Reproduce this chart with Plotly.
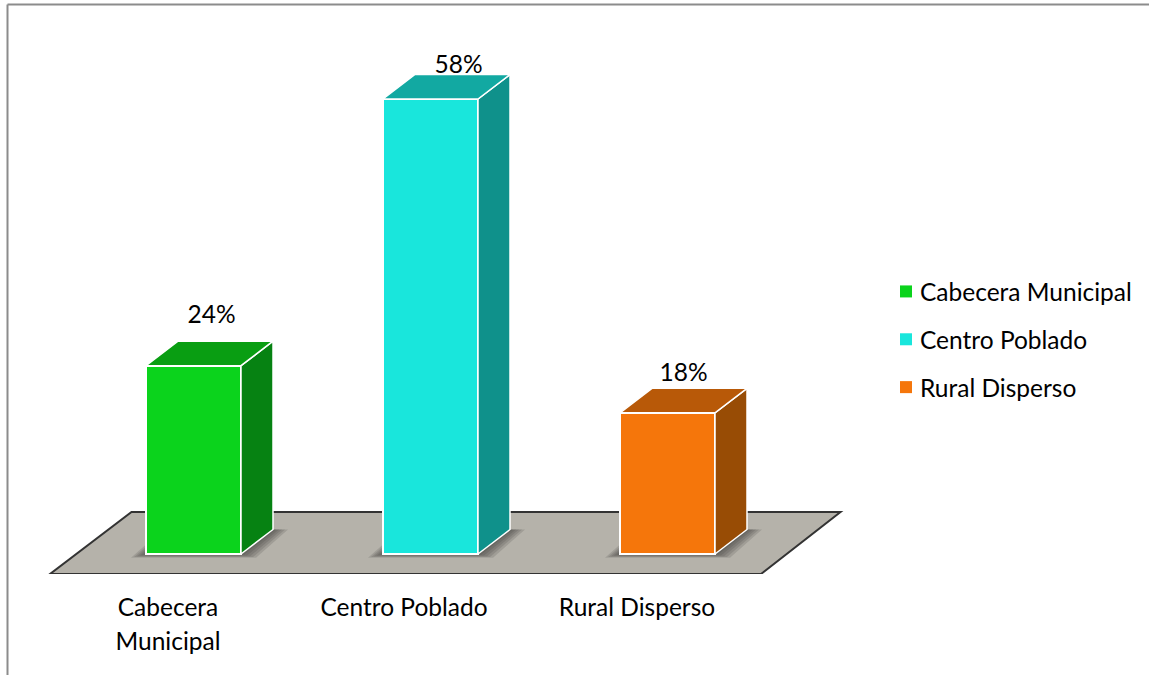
import plotly.graph_objects as go

categories = ["Cabecera Municipal", "Centro Poblado", "Rural Disperso"]
tick_labels = ["Cabecera<br>Municipal", "Centro Poblado", "Rural Disperso"]
values = [24, 58, 18]
front_colors = ["#0BD31C", "#19E6DC", "#F5760B"]
top_colors = ["#099E12", "#12A9A2", "#B85908"]
side_colors = ["#068212", "#0F918B", "#984C05"]

# pixel scale of the axes
PX_X, PX_Y = 237.0, 7.845
X0_PX, Y0_PX = 193.5, 554.0
PLOT_L, PLOT_R, PLOT_T, PLOT_B = 8, 1149, 6, 574
W = 1149; H = 675
BAR_W = 95 / PX_X
DX, DY = 32 / PX_X, 24.5 / PX_Y
label_dx = [18 / PX_X, 28 / PX_X, 16 / PX_X]
label_dy = [48.5 / PX_Y, 32.5 / PX_Y, 37.5 / PX_Y]
tick_dx = [-25.5 / PX_X, -26.5 / PX_X, -30.5 / PX_X]
FONT = "Lato"
FS = 24.5

xpos = list(range(len(categories)))

fig = go.Figure()

def poly_path(pts):
    return "M" + " L".join(f"{x},{y}" for x, y in pts) + " Z"

# floor
fl_l, fl_r = -143.5 / PX_X, 567.5 / PX_X
fl_y0, fl_y1 = -20 / PX_Y, 42 / PX_Y
fl_skew_l, fl_skew_r = 81.5 / PX_X, 79.5 / PX_X
fig.add_shape(type="path", layer="below", xref="x", yref="y",
              path=poly_path([(fl_l, fl_y0), (fl_r, fl_y0), (fl_r + fl_skew_r, fl_y1), (fl_l + fl_skew_l, fl_y1)]),
              fillcolor="#B5B2AA", line=dict(color="#333333", width=2))

# soft contact shadows
for k in (15, 12, 9, 6, 3):
    ex, ey = k / PX_X, (k / 4) / PX_Y
    for x in xpos:
        l, r = x - BAR_W / 2 - ex, x + BAR_W / 2 + ex
        fig.add_shape(type="path", layer="below", xref="x", yref="y",
                      path=poly_path([(l, -ey), (r, -ey), (r + DX, DY), (l + DX, DY)]),
                      fillcolor="rgba(50,50,50,0.16)", line=dict(width=0))

# front faces
for x, name, v, c in zip(xpos, categories, values, front_colors):
    fig.add_trace(go.Bar(x=[x], y=[v], name=name, width=BAR_W, legendgroup=name,
                         marker=dict(color=c, line=dict(color="white", width=2)),
                         hoverinfo="skip"))

# side and top faces
for x, v, tc, sc in zip(xpos, values, top_colors, side_colors):
    l, r = x - BAR_W / 2, x + BAR_W / 2
    fig.add_trace(go.Scatter(x=[r, r + DX, r + DX, r, r], y=[0, DY, v + DY, v, 0],
                             mode="lines", fill="toself", fillcolor=sc,
                             line=dict(color="white", width=1.5), showlegend=False, hoverinfo="skip"))
    fig.add_trace(go.Scatter(x=[l, r, r + DX, l + DX, l], y=[v, v, v + DY, v + DY, v],
                             mode="lines", fill="toself", fillcolor=tc,
                             line=dict(color="white", width=1.5), showlegend=False, hoverinfo="skip"))

# value labels
fig.add_trace(go.Scatter(x=[x + d for x, d in zip(xpos, label_dx)],
                         y=[v + d for v, d in zip(values, label_dy)],
                         text=[f"{v}%" for v in values], mode="text",
                         textfont=dict(family=FONT, size=FS, color="#000000"),
                         textposition="middle center", showlegend=False, hoverinfo="skip", cliponaxis=False))

plot_w = PLOT_R - PLOT_L
sep = '</span><br><span style="font-size:%spx">' % FS
fig.update_layout(
    width=W, height=H, autosize=False,
    margin=dict(l=PLOT_L, r=W - PLOT_R, t=PLOT_T, b=H - PLOT_B, pad=0),
    paper_bgcolor="white", plot_bgcolor="white",
    barmode="overlay", bargap=0,
    font=dict(family=FONT, size=FS, color="#000000"),
    xaxis=dict(range=[(PLOT_L - X0_PX) / PX_X, (PLOT_R - X0_PX) / PX_X],
               tickmode="array", tickvals=[x + d for x, d in zip(xpos, tick_dx)],
               ticktext=[f'<span style="font-size:{FS}px">{t.replace("<br>", sep)}</span>' for t in tick_labels],
               tickfont=dict(family=FONT, size=26, color="#000000"),
               showgrid=False, zeroline=False, showline=False, ticks="", ticklabelstandoff=15,
               tickangle=0, fixedrange=True),
    yaxis=dict(range=[(Y0_PX - PLOT_B) / PX_Y, (Y0_PX - PLOT_T) / PX_Y], visible=False, fixedrange=True),
    legend=dict(x=(886 - PLOT_L) / plot_w, xanchor="left", y=(PLOT_B - 269) / (PLOT_B - PLOT_T), yanchor="top",
                font=dict(family=FONT, size=FS, color="#000000"),
                bgcolor="rgba(0,0,0,0)", tracegroupgap=13, itemclick=False, itemdoubleclick=False),
    shapes=list(fig.layout.shapes) + [
        dict(type="line", xref="paper", yref="paper", x0=(7.5 - PLOT_L) / plot_w, x1=1.0,
             y0=(PLOT_B - 4.5) / (PLOT_B - PLOT_T), y1=(PLOT_B - 4.5) / (PLOT_B - PLOT_T),
             line=dict(color="#8C8C8C", width=2), layer="above"),
        dict(type="line", xref="paper", yref="paper", x0=(7.5 - PLOT_L) / plot_w, x1=(7.5 - PLOT_L) / plot_w,
             y0=(PLOT_B - 675) / (PLOT_B - PLOT_T), y1=(PLOT_B - 4.5) / (PLOT_B - PLOT_T),
             line=dict(color="#8C8C8C", width=2), layer="above"),
    ],
)

post = """
document.body.style.margin='0';document.body.style.overflow='hidden';
document.querySelectorAll('.legend .legendtext').forEach(function(t){
  t.setAttribute('x', parseFloat(t.getAttribute('x')) - 6);
  t.querySelectorAll('tspan').forEach(function(s){ if (s.getAttribute('x')) s.setAttribute('x', parseFloat(s.getAttribute('x')) - 6); });
});
document.querySelectorAll('.legend .legendpoints path').forEach(function(p){ p.style.strokeWidth='0'; });
"""
fig.write_html("out.html", post_script=post, config=dict(displayModeBar=False))
